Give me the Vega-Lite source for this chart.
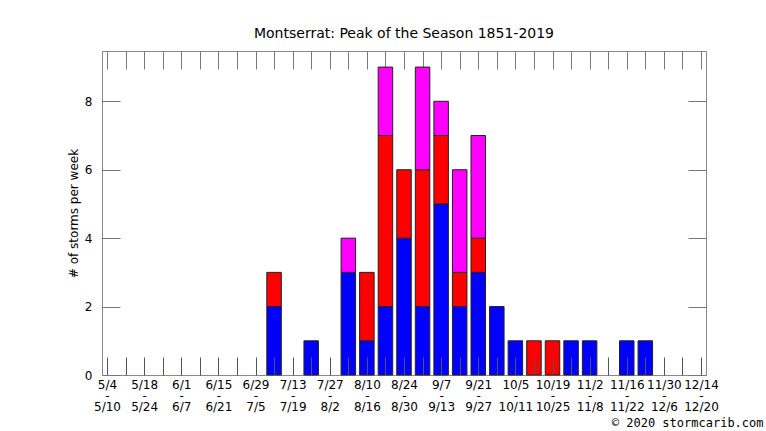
{
  "$schema": "https://vega.github.io/schema/vega-lite/v6.json",
  "autosize": "none",
  "width": 604,
  "height": 324,
  "padding": {"left": 102, "top": 51, "right": 60, "bottom": 56},
  "title": {
    "text": "Montserrat: Peak of the Season 1851-2019",
    "font": "DejaVu Sans",
    "fontSize": 14,
    "fontWeight": "normal",
    "color": "black",
    "offset": 10
  },
  "data": {
    "values": [
      {"week": 9, "kind": "tropical storm", "level": 1, "storms": 2},
      {"week": 11, "kind": "tropical storm", "level": 1, "storms": 1},
      {"week": 13, "kind": "tropical storm", "level": 1, "storms": 3},
      {"week": 14, "kind": "tropical storm", "level": 1, "storms": 1},
      {"week": 15, "kind": "tropical storm", "level": 1, "storms": 2},
      {"week": 16, "kind": "tropical storm", "level": 1, "storms": 4},
      {"week": 17, "kind": "tropical storm", "level": 1, "storms": 2},
      {"week": 18, "kind": "tropical storm", "level": 1, "storms": 5},
      {"week": 19, "kind": "tropical storm", "level": 1, "storms": 2},
      {"week": 20, "kind": "tropical storm", "level": 1, "storms": 3},
      {"week": 21, "kind": "tropical storm", "level": 1, "storms": 2},
      {"week": 22, "kind": "tropical storm", "level": 1, "storms": 1},
      {"week": 25, "kind": "tropical storm", "level": 1, "storms": 1},
      {"week": 26, "kind": "tropical storm", "level": 1, "storms": 1},
      {"week": 28, "kind": "tropical storm", "level": 1, "storms": 1},
      {"week": 29, "kind": "tropical storm", "level": 1, "storms": 1},
      {"week": 9, "kind": "hurricane", "level": 2, "storms": 1},
      {"week": 14, "kind": "hurricane", "level": 2, "storms": 2},
      {"week": 15, "kind": "hurricane", "level": 2, "storms": 5},
      {"week": 16, "kind": "hurricane", "level": 2, "storms": 2},
      {"week": 17, "kind": "hurricane", "level": 2, "storms": 4},
      {"week": 18, "kind": "hurricane", "level": 2, "storms": 2},
      {"week": 19, "kind": "hurricane", "level": 2, "storms": 1},
      {"week": 20, "kind": "hurricane", "level": 2, "storms": 1},
      {"week": 23, "kind": "hurricane", "level": 2, "storms": 1},
      {"week": 24, "kind": "hurricane", "level": 2, "storms": 1},
      {"week": 13, "kind": "major hurricane", "level": 3, "storms": 1},
      {"week": 15, "kind": "major hurricane", "level": 3, "storms": 2},
      {"week": 17, "kind": "major hurricane", "level": 3, "storms": 3},
      {"week": 18, "kind": "major hurricane", "level": 3, "storms": 1},
      {"week": 19, "kind": "major hurricane", "level": 3, "storms": 3},
      {"week": 20, "kind": "major hurricane", "level": 3, "storms": 3}
    ]
  },
  "encoding": {
    "x": {
      "field": "week",
      "type": "quantitative",
      "scale": {"domain": [0, 32], "nice": false, "zero": false}
    },
    "y": {
      "field": "storms",
      "type": "quantitative",
      "stack": "zero",
      "scale": {"domain": [0, 9.47], "nice": false}
    },
    "order": {"field": "level", "type": "quantitative"}
  },
  "layer": [
    {
      "mark": {"type": "bar", "size": 14.5, "stroke": "#222", "strokeWidth": 1},
      "encoding": {
        "x": {
          "field": "week",
          "type": "quantitative",
          "scale": {"domain": [0, 32], "nice": false, "zero": false},
          "axis": {
            "orient": "bottom",
            "values": [0,1,2,3,4,5,6,7,8,9,10,11,12,13,14,15,16,17,18,19,20,21,22,23,24,25,26,27,28,29,30,31,32],
            "grid": false,
            "domain": false,
            "tickSize": -18,
            "tickColor": "#555",
            "labelPadding": 22,
            "labelBaseline": "top",
            "labelAlign": "center",
            "labelFlush": false,
            "labelOverlap": false,
            "labelLineHeight": 11,
            "labelFont": "DejaVu Sans",
            "labelFontSize": 12,
            "labelColor": "black",
            "labelExpr": "datum.value % 2 == 0 ? [timeFormat(datetime(2019, 4, 4 + 7 * datum.value), '%-m/%-d'), '-', timeFormat(datetime(2019, 4, 10 + 7 * datum.value), '%-m/%-d')] : ''",
            "title": "© 2020 stormcarib.com",
            "titleFont": "DejaVu Sans Mono",
            "titleFontSize": 12,
            "titleFontWeight": "normal",
            "titleColor": "black",
            "titleAlign": "right",
            "titleBaseline": "alphabetic",
            "titleX": 661,
            "titleY": 51,
            "zindex": 1
          }
        },
        "y": {
          "field": "storms",
          "type": "quantitative",
          "stack": "zero",
          "scale": {"domain": [0, 9.47], "nice": false},
          "axis": {
            "orient": "left",
            "values": [0, 2, 4, 6, 8],
            "grid": false,
            "domain": false,
            "tickSize": -18,
            "tickColor": "#777",
            "labelPadding": 28,
            "labelFont": "DejaVu Sans",
            "labelFontSize": 12,
            "labelColor": "black",
            "title": "# of storms per week",
            "titleFont": "DejaVu Sans",
            "titleFontSize": 12,
            "titleFontWeight": "normal",
            "titleColor": "black",
            "titlePadding": 4,
            "zindex": 1
          }
        },
        "color": {
          "field": "kind",
          "type": "nominal",
          "scale": {
            "domain": ["tropical storm", "hurricane", "major hurricane"],
            "range": ["#0000ff", "#ff0000", "#ff00ff"]
          },
          "legend": null
        }
      }
    },
    {
      "mark": {"type": "bar", "size": 14.5, "opacity": 0},
      "encoding": {
        "x": {
          "field": "week",
          "type": "quantitative",
          "axis": {
            "orient": "top",
            "values": [0,1,2,3,4,5,6,7,8,9,10,11,12,13,14,15,16,17,18,19,20,21,22,23,24,25,26,27,28,29,30,31,32],
            "grid": false,
            "domain": false,
            "tickSize": -18,
            "tickColor": "#777",
            "labels": false,
            "title": null
          }
        },
        "y": {
          "field": "storms",
          "type": "quantitative",
          "stack": "zero",
          "axis": {
            "orient": "right",
            "values": [0, 2, 4, 6, 8],
            "grid": false,
            "domain": false,
            "tickSize": -18,
            "tickColor": "#777",
            "labels": false,
            "title": null
          }
        }
      }
    }
  ],
  "resolve": {"axis": {"x": "independent", "y": "independent"}},
  "config": {
    "font": "DejaVu Sans",
    "view": {"stroke": "#888"}
  }
}
